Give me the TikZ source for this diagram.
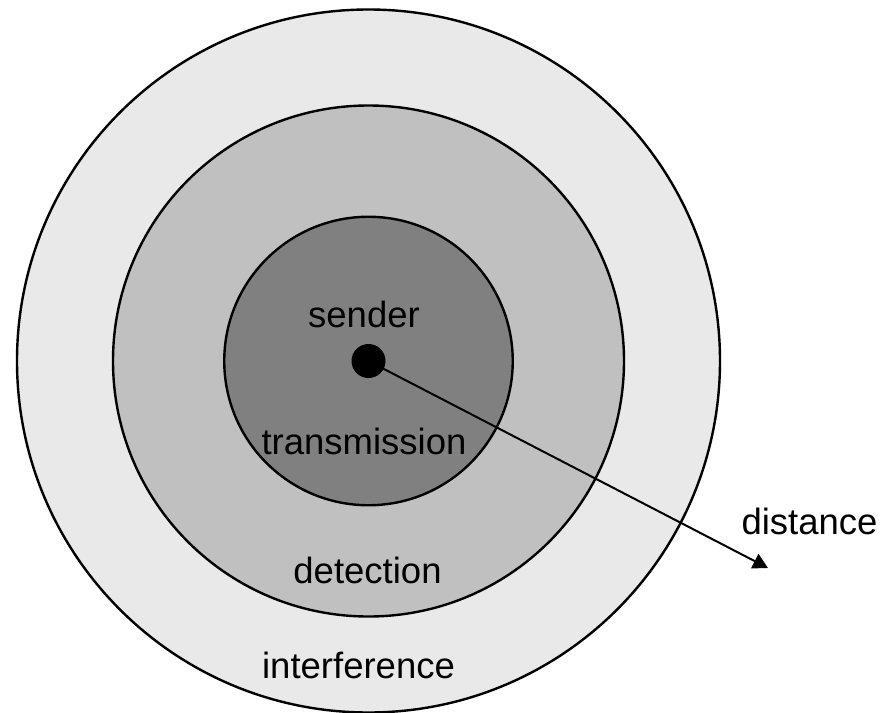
\documentclass[tikz,border=0pt]{standalone}
\usepackage{fontspec}
\setmainfont{Liberation Sans}
\usetikzlibrary{arrows.meta}
\definecolor{outerfill}{HTML}{E9E9E9}
\definecolor{midfill}{HTML}{C0C0C0}
\definecolor{innerfill}{HTML}{808080}
\begin{document}
\begin{tikzpicture}[x=1pt,y=-1pt,
  ring/.style={circle,draw=black,line width=2.4pt,inner sep=0pt},
  lbl/.style={inner sep=0pt,anchor=base,font=\fontsize{36.5}{40}\selectfont}]
\useasboundingbox (0,0) rectangle (891,712);
\coordinate (c) at (368.5,361);
\node[ring,fill=outerfill,minimum size=703pt] (outer) at (c) {};
\node[ring,fill=midfill,minimum size=511pt] (middle) at (c) {};
\node[ring,fill=innerfill,minimum size=288.5pt] (inner) at (c) {};
\node[circle,fill=black,inner sep=0pt,minimum size=34pt] (dot) at (368.5,361) {};
\coordinate (tip) at (768,568);
\draw[line width=2pt,-{Triangle[length=15pt,width=16pt]}] (dot.center) -- (tip);
\node[lbl] (sender) at (364,327) {sender};
\node[lbl] (transmission) at (364,454) {transmission};
\node[lbl] (detection) at (367.5,583) {detection};
\node[lbl] (interference) at (358.5,678) {interference};
\node[lbl] (distance) at (809.5,534) {distance};
\end{tikzpicture}
\end{document}
